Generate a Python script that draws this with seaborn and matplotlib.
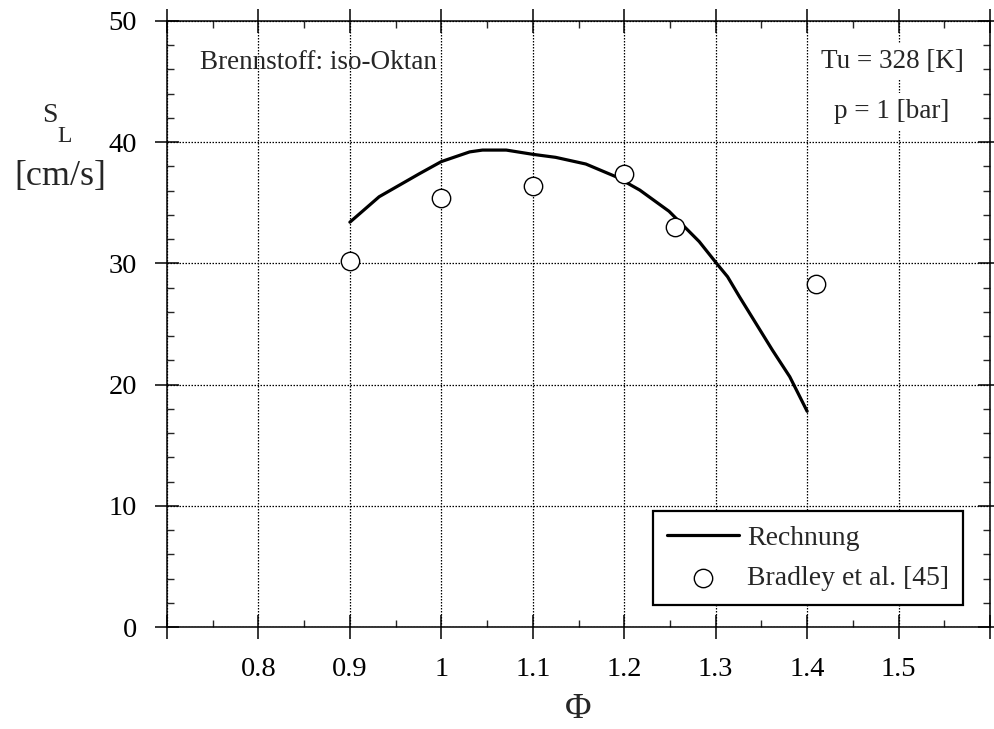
import numpy as np
import pandas as pd
import matplotlib
matplotlib.use("Agg")
import matplotlib.pyplot as plt
import seaborn as sns
from matplotlib.ticker import MultipleLocator

# calculated flame speed (Rechnung)
phi_calc = [0.90, 0.932, 0.976, 1.00, 1.031, 1.045, 1.071, 1.10, 1.125, 1.158,
            1.191, 1.217, 1.249, 1.282, 1.301, 1.313, 1.326, 1.344, 1.362, 1.381, 1.40]
sl_calc = [33.4, 35.5, 37.4, 38.4, 39.2, 39.35, 39.35, 39.0, 38.75, 38.2,
           37.15, 36.05, 34.3, 31.8, 30.0, 28.9, 27.25, 25.05, 22.85, 20.65, 17.8]

# measurements (Bradley et al. [45])
phi_meas = [0.90, 1.00, 1.10, 1.20, 1.255, 1.41]
sl_meas = [30.2, 35.4, 36.4, 37.4, 33.0, 28.3]

x_ticks = [0.8, 0.9, 1.0, 1.1, 1.2, 1.3, 1.4, 1.5]
x_tick_labels = ["0.8", "0.9", "1", "1.1", "1.2", "1.3", "1.4", "1.5"]

sns.set_theme(style="ticks")
plt.rcParams["font.family"] = ["Liberation Serif", "DejaVu Serif"]

df_calc = pd.DataFrame({"phi": phi_calc, "sl": sl_calc})
df_meas = pd.DataFrame({"phi": phi_meas, "sl": sl_meas})

fig = plt.figure(figsize=(9.94, 7.29), dpi=100)
ax = fig.add_axes([0.168, 0.1399, 0.828, 0.8313])

sns.lineplot(data=df_calc, x="phi", y="sl", ax=ax, color="black", lw=2.3,
             label="Rechnung", zorder=3)
sns.scatterplot(data=df_meas, x="phi", y="sl", ax=ax, s=175, facecolor="white",
                edgecolor="black", linewidth=1.0, label="Bradley et al. [45]", zorder=4)

ax.set_xlim(0.7, 1.6)
ax.set_ylim(0, 50)
ax.set_xticks([0.7] + x_ticks + [1.6])
ax.set_xticklabels([""] + x_tick_labels + [""])
ax.xaxis.set_minor_locator(MultipleLocator(0.05))
ax.yaxis.set_major_locator(MultipleLocator(10))
ax.yaxis.set_minor_locator(MultipleLocator(2))

ax.grid(True, which="major", color="black", linestyle=(0, (1.2, 1.2)), lw=0.9)
for sp in ax.spines.values():
    sp.set_visible(True)
    sp.set_linewidth(1.1)
    sp.set_color("black")

ax.tick_params(which="major", direction="inout", length=17, width=1.1,
               top=True, right=True, labelsize=20.5, pad=13, colors="black")
ax.tick_params(which="minor", direction="in", length=5, width=1.0,
               top=True, right=True)
ax.set_xlabel("")
ax.set_ylabel("")

# axis titles
fig.text(578 / 994, 1 - 710 / 729, "Φ", fontsize=26, ha="center", va="center")
fig.text(50 / 994, 1 - 116 / 729, "S", fontsize=20, ha="center", va="center")
fig.text(65 / 994, 1 - 136 / 729, "L", fontsize=17, ha="center", va="center")
fig.text(60 / 994, 1 - 176 / 729, "[cm/s]", fontsize=26, ha="center", va="center")

# annotations
ax.text(0.736, 46.0, "Brennstoff: iso-Oktan", fontsize=19.5, ha="left", va="baseline")
ax.text(1.493, 46.1, "Tu = 328 [K]", fontsize=19.5, ha="center", va="baseline",
        bbox=dict(facecolor="white", edgecolor="none", pad=4))
ax.text(1.493, 42.0, "p = 1 [bar]", fontsize=19.5, ha="center", va="baseline",
        bbox=dict(facecolor="white", edgecolor="none", pad=4))

leg = ax.legend(loc="lower right", bbox_to_anchor=(0.967, 0.036), fontsize=20,
                frameon=True, fancybox=False, framealpha=1, edgecolor="black",
                handlelength=2.6, handletextpad=0.28, borderpad=0.5,
                labelspacing=0.55, borderaxespad=0)
leg.get_frame().set_linewidth(1.6)

fig.savefig("out.png", dpi=100)
